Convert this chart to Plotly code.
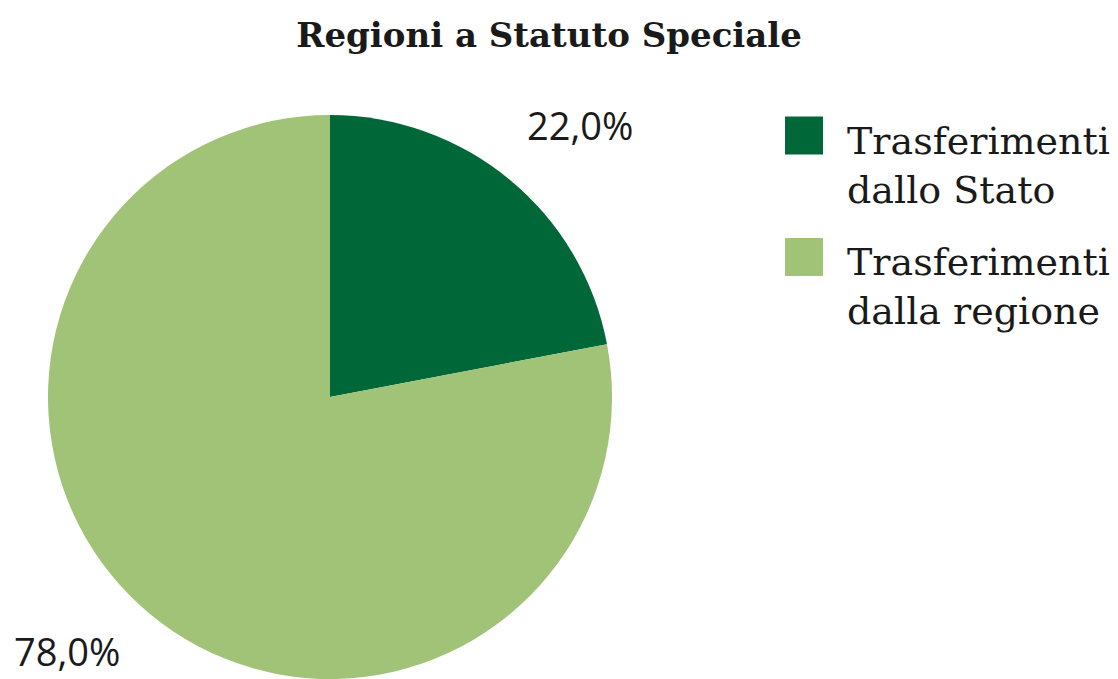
import plotly.graph_objects as go

title = "Regioni a Statuto Speciale"
labels = ["Trasferimenti<br>dallo Stato", "Trasferimenti<br>dalla regione"]
values = [22.0, 78.0]
colors = ["#006838", "#A1C378"]

W, H = 1118, 679

def px(x):
    return x / W

def py(y):
    return 1 - y / H

fig = go.Figure()
fig.add_trace(go.Pie(
    labels=labels,
    values=values,
    sort=False,
    direction="clockwise",
    rotation=0,
    marker=dict(colors=colors, line=dict(width=0)),
    textinfo="none",
    hoverinfo="label+percent",
    showlegend=False,
    domain=dict(x=[px(47), px(613)], y=[0, py(115)]),
))

def fmt(v):
    return f"{v:.1f}".replace(".", ",") + "%"

# percentage labels
label_pos = [(580, 125), (67, 651)]
for v, (x, y) in zip(values, label_pos):
    fig.add_annotation(x=px(x), y=py(y), xref="paper", yref="paper",
                       text=fmt(v), showarrow=False,
                       font=dict(family="Open Sans", size=38, color="#1a1a1a"),
                       xanchor="center", yanchor="middle")

# custom legend
leg_y = [135.5, 257]
for lab, c, y in zip(labels, colors, leg_y):
    fig.add_shape(type="rect", xref="paper", yref="paper",
                  x0=px(785), x1=px(823), y0=py(y - 19), y1=py(y + 19),
                  fillcolor=c, line=dict(width=0))
    fig.add_annotation(x=px(845), y=py(y - 19), xref="paper", yref="paper",
                       text=lab, showarrow=False, align="left",
                       xanchor="left", yanchor="top",
                       font=dict(family="DejaVu Serif", size=38, color="#1a1a1a"))

fig.update_layout(
    width=W, height=H,
    margin=dict(l=0, r=0, t=0, b=0),
    paper_bgcolor="white", plot_bgcolor="white",
    title=dict(text="<b>" + title + "</b>", x=549 / W, xanchor="center", y=py(35), yanchor="middle",
               font=dict(family="DejaVu Serif", size=34, color="#1a1a1a")),
)

fig.write_html("out.html")
